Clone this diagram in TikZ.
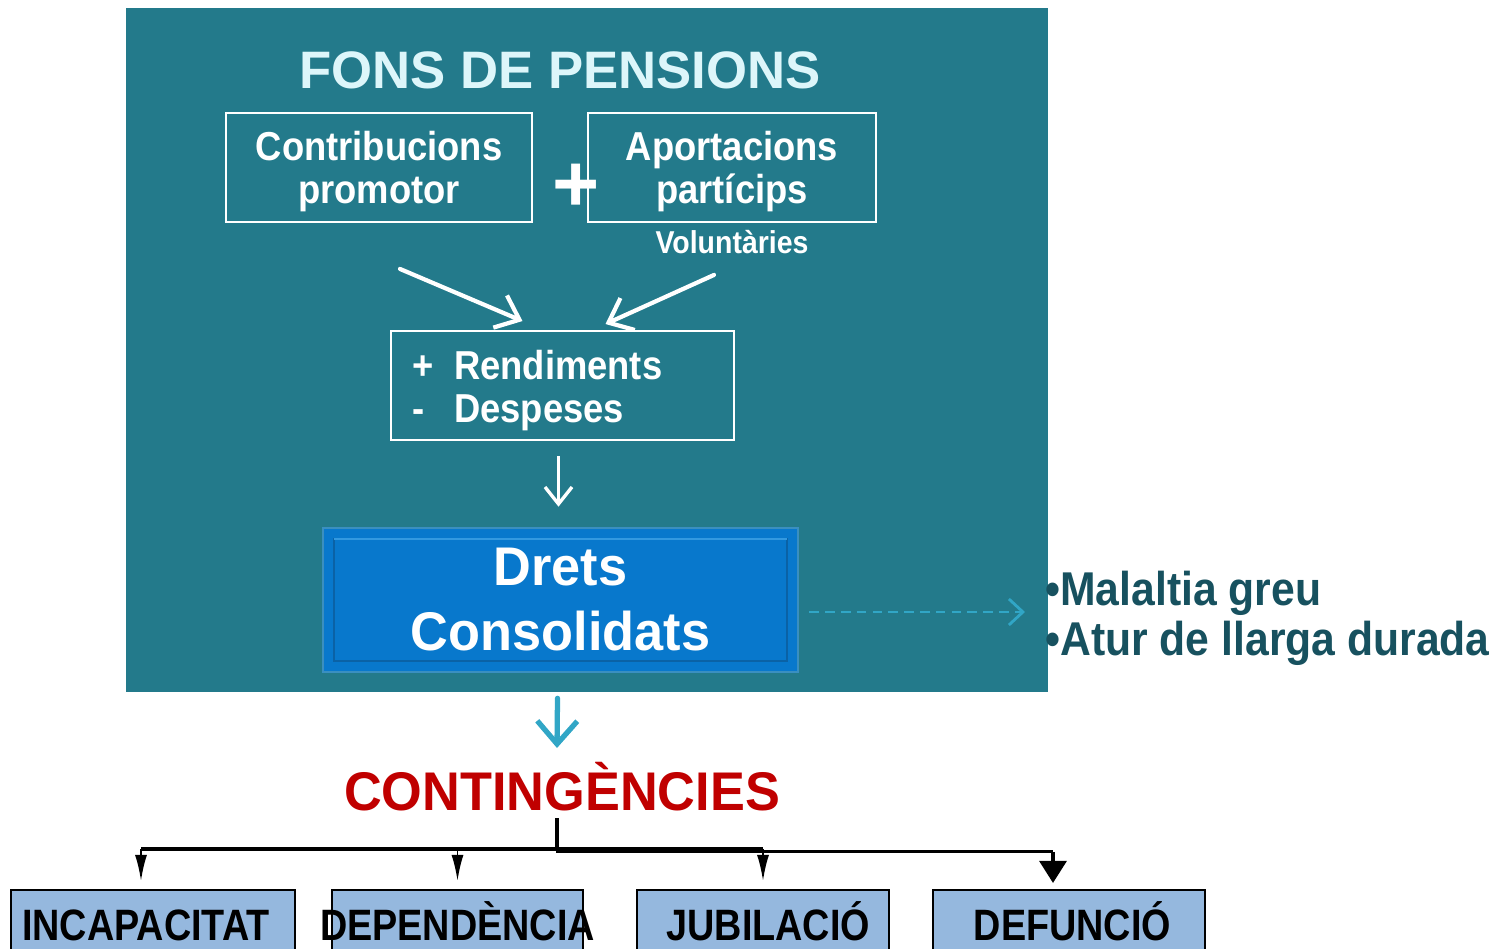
\documentclass[tikz,border=0pt]{standalone}
\usepackage{fontspec}
\setmainfont{Liberation Sans}
\newfontfamily\narrowfont{Liberation Sans}[FakeStretch=0.9]
\newfontfamily\slimfont{Liberation Sans}[FakeStretch=0.86]
\newfontfamily\snugfont{Liberation Sans}[FakeStretch=0.96]
\usetikzlibrary{arrows.meta,calc,positioning}
\definecolor{fpteal}{HTML}{237A8B}
\definecolor{fpice}{HTML}{DDF6FA}
\definecolor{fpblue}{HTML}{0878CC}
\definecolor{fprim}{HTML}{3A8FC0}
\definecolor{fpedge}{HTML}{0A62A6}
\definecolor{fpshine}{HTML}{3399E0}
\definecolor{fpsky}{HTML}{31A6C6}
\definecolor{fpdeep}{HTML}{17515F}
\definecolor{fpred}{HTML}{C00000}
\definecolor{fppale}{HTML}{95B8DE}
\newcommand{\topstrut}[1]{\rule{0pt}{#1}}
\tikzset{
  panel/.style={fill=fpteal,inner sep=0pt},
  title/.style={text=fpice,inner sep=0pt,font=\bfseries\fontsize{30}{32}\selectfont},
  inbox/.style={draw=white,line width=1.1pt,text=white,align=center,inner sep=0pt,font=\narrowfont\bfseries\fontsize{23}{24.5}\selectfont},
  note/.style={text=white,inner sep=0pt,font=\narrowfont\bfseries\fontsize{18}{20}\selectfont},
  plus/.style={text=white,inner sep=0pt,font=\bfseries\fontsize{46}{46}\selectfont},
  drets/.style={fill=fpblue,draw=fprim,line width=1.5pt,text=white,align=center,inner sep=0pt,font=\snugfont\bfseries\fontsize{31}{37}\selectfont},
  risk/.style={text=fpdeep,align=left,inner sep=0pt,font=\narrowfont\bfseries\fontsize{27}{28.5}\selectfont},
  conttitle/.style={text=fpred,inner sep=0pt,font=\snugfont\bfseries\fontsize{31}{32}\selectfont},
  leaf/.style={draw=black,line width=1.2pt,fill=fppale,minimum height=1.4cm,text height=18pt,text depth=0pt,inner sep=0pt,font=\slimfont\bfseries\fontsize{25}{25}\selectfont},
  whitearrow/.style={-{Straight Barb[length=4.2mm,width=7mm]},draw=white,line width=2.4pt,line cap=round},
  thinarrow/.style={-{Straight Barb[length=3.4mm,width=5.4mm]},draw=white,line width=1.9pt},
  dasharrow/.style={-{Straight Barb[length=2.8mm,width=5.2mm]},draw=fpsky,line width=1.6pt,dash pattern=on 5.5pt off 3.5pt},
  skyarrow/.style={-{Straight Barb[length=4.6mm,width=8mm]},draw=fpsky,line width=3pt,line cap=round},
  trunk/.style={draw=black,line width=2.2pt},
  twig/.style={-{Latex[length=5.2mm,width=2.4mm]},draw=black,line width=1.1pt},
  bigtwig/.style={-{Triangle[length=4.4mm,width=5.4mm]},draw=black,line width=1.8pt},
}
\begin{document}
\begin{tikzpicture}[x=0.02cm,y=-0.02cm]
  \useasboundingbox (0,0) rectangle (1509,949);
  \node[panel,minimum width=18.44cm,minimum height=13.68cm] (fons) at (587,350) {};
  \node[title] (head) at (560,70) {FONS DE PENSIONS};
  \node[inbox,minimum width=6.12cm,minimum height=2.18cm] (contrib) at (379,167.5) {\topstrut{21.6pt}Contribucions\\promotor};
  \node[plus] (plus) at (576,188) {+};
  \node[inbox,minimum width=5.76cm,minimum height=2.18cm] (aport) at (732,167.5) {\topstrut{21.6pt}Aportacions\\partícips};
  \node[note,below=4pt of aport] (volun) {Voluntàries};
  \node[inbox,align=left,text width=6.02cm,minimum width=6.86cm,minimum height=2.18cm] (rend) at (562.5,385.5)
    {\topstrut{22.6pt}\makebox[24pt][l]{+}Rendiments\\\makebox[24pt][l]{-}Despeses};
  \node[drets,minimum width=9.5cm,minimum height=2.88cm] (drets) at (560.5,600) {Drets\\Consolidats};
  \draw[fpedge,line width=1.2pt] ($(drets.north west)+(12,12)$) rectangle ($(drets.south east)+(-12,-12)$);
  \draw[fpshine,line width=1.2pt] ($(drets.north west)+(12,12)$) -- ($(drets.north east)+(-12,12)$);
  \node[risk,anchor=west] (risk) at (1045,618) {•Malaltia greu\\•Atur de llarga durada};
  \node[conttitle,anchor=base] (cont) at (562,810) {CONTINGÈNCIES};
  % contingencies
  \node[leaf,minimum width=5.68cm] (incap) at (153,925) {\makebox[0pt]{\hspace{-8pt}INCAPACITAT}};
  \node[leaf,minimum width=5.02cm] (depen) at (457.5,925) {\makebox[0pt]{DEPENDÈNCIA}};
  \node[leaf,minimum width=5.04cm] (jubil) at (763,925) {\makebox[0pt]{\hspace{6pt}JUBILACIÓ}};
  \node[leaf,minimum width=5.44cm] (defun) at (1069,925) {\makebox[0pt]{\hspace{4pt}DEFUNCIÓ}};
  % flows
  \draw[whitearrow] ($(contrib.south)+(21,46)$) -- ($(rend.north)+(-40,-9)$);
  \draw[whitearrow] ($(aport.south)+(-18,52)$) -- ($(rend.north)+(43,-6)$);
  \draw[thinarrow] ($(rend.south)+(-4,15)$) -- ($(drets.north)+(-2,-20)$);
  \draw[dasharrow] ($(drets.east)+(10,12)$) -- ($(risk.west)+(-20,-6)$);
  \draw[skyarrow] ($(drets.south)+(-3,25)$) -- ($(cont.base)+(-5,-62)$);
  % tree
  \coordinate (split) at ($(cont.base)+(-5,40)$);
  \coordinate (ta) at ($(incap.north)+(-12,-40)$);
  \coordinate (tb) at ($(depen.north)+(0,-40)$);
  \coordinate (tc) at ($(jubil.north)+(0,-40)$);
  \coordinate (td) at ($(defun.north)+(-16,-37)$);
  \draw[trunk] ($(cont.base)+(-5,8)$) -- (split);
  \draw[trunk] (ta) -- (tc);
  \draw[trunk,line width=1.7pt] (split) |- (td);
  \foreach \t/\b/\dx in {ta/incap/-12,tb/depen/0,tc/jubil/0}
    \draw[twig] (\t) -- ($(\b.north)+(\dx,-8)$);
  \draw[bigtwig] (td) -- ($(defun.north)+(-16,-6)$);
\end{tikzpicture}
\end{document}
